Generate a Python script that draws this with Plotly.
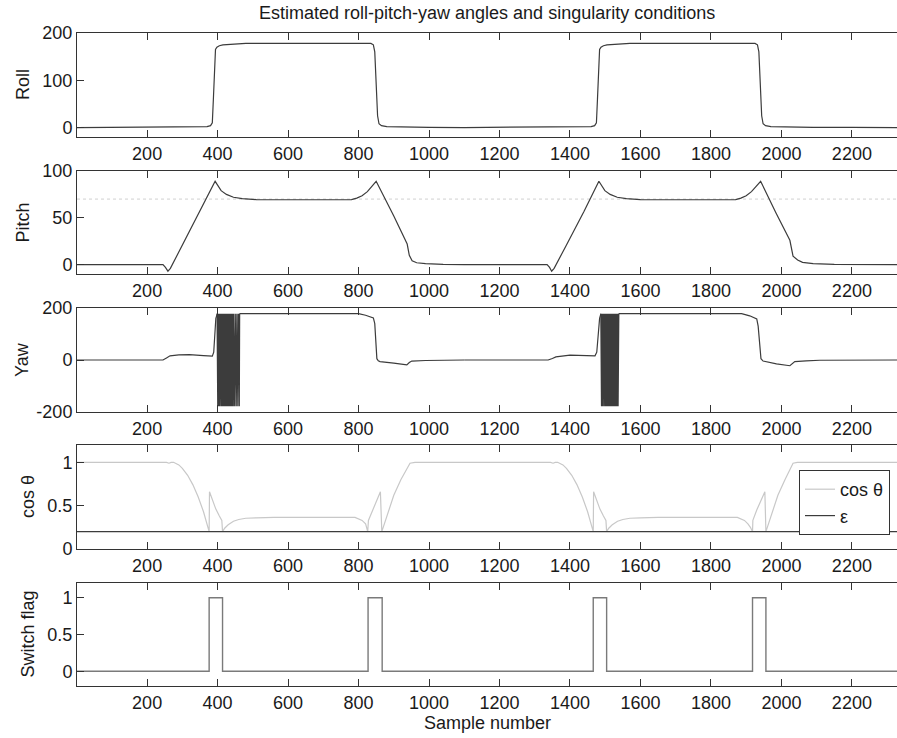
import plotly.graph_objects as go
from plotly.subplots import make_subplots

# ---- sample-number axis ----
x_range = [1, 2328]
x_ticks = [200, 400, 600, 800, 1000, 1200, 1400, 1600, 1800, 2000, 2200]

# ---- roll angle (deg) ----
roll_x = [1, 300, 370, 380, 385, 388, 391, 394, 398, 405, 415, 430, 450, 480,
          835, 842, 846, 850, 854, 858, 865, 880, 920, 1000, 1100,
          1380, 1460, 1470, 1475, 1478, 1481, 1484, 1488, 1495, 1505, 1520, 1540, 1570,
          1925, 1932, 1936, 1940, 1944, 1948, 1955, 1970, 2010, 2090, 2200, 2330]
roll_y = [0, 0.5, 2, 4, 10, 60, 140, 165, 170, 173, 175, 176, 177, 178,
          178, 175, 160, 90, 25, 8, 4, 2, 1, 0.5, 0,
          0.5, 2, 4, 10, 60, 140, 165, 170, 173, 175, 176, 177, 178,
          178, 175, 160, 90, 25, 8, 4, 2, 1, 0.5, 0.2, 0]

# ---- pitch angle (deg) and its 70 deg threshold ----
pitch_x = [1, 245, 252, 259, 266, 300, 350, 393, 400, 410, 425, 445, 470, 510, 600,
           780, 795, 810, 825, 850, 900, 938, 944, 952, 965, 990, 1040, 1100,
           1335, 1342, 1348, 1355, 1390, 1440, 1482, 1489, 1499, 1514, 1534, 1560, 1600, 1700,
           1870, 1885, 1900, 1915, 1941, 1985, 2024, 2033, 2046, 2060, 2090, 2150, 2330]
pitch_y = [0, 0, -3, -7, -4, 21, 57, 89, 85, 79, 75, 72, 70.5, 69.5, 69.3,
           69.5, 71, 73.5, 78, 89, 52, 22, 10, 4, 2, 1, 0.3, 0,
           0, -3, -7, -4, 21, 57, 89, 85, 79, 75, 72, 70.5, 69.5, 69.3,
           69.5, 71, 73.5, 78, 89, 55, 26, 9, 5, 2.5, 1, 0.3, 0]
pitch_limit = 70

# ---- yaw angle (deg): smooth parts and the +/-180 wrap bursts ----
yaw1_pre_x = [1, 245, 255, 265, 290, 320, 360, 385, 389, 392, 395, 398, 399]
yaw1_pre_y = [0, 0, 8, 16, 20, 21, 17, 15, 30, 100, 160, 172, 178]
yaw1_wrap_x = [399, 401, 403, 405, 407, 408, 409, 410, 411, 412, 413, 414, 415, 416,
               417, 418, 419, 420, 421, 422, 423, 424, 425, 426, 427, 428, 429, 430,
               431, 432, 433, 434, 435, 436, 437, 438, 439, 440, 441, 442, 443, 444,
               446, 449, 452, 455, 458, 461, 462]
yaw1_wrap_y = [178, -178, 178, -178, 178, -178, 178, -178, 178, -178, 178, -178, 178, -178,
               178, -178, 178, -178, 178, -178, 178, -178, 178, -178, 178, -178, 178, -178,
               178, -178, 178, -178, 178, -178, 178, -178, 178, -178, 178, -178, 178, -178,
               178, -178, 178, -178, 178, -178, 178]
yaw1_post_x = [462, 600, 800, 820, 842, 846, 849, 852, 856, 861, 900, 937, 944, 951, 990, 1031, 1100]
yaw1_post_y = [178, 178, 178, 172, 162, 140, 60, 5, -3, -6, -12, -19, -10, -4, -2, -1, 0]

yaw2_pre_x = [1100, 1338, 1350, 1360, 1400, 1440, 1471, 1476, 1480, 1484, 1487, 1488]
yaw2_pre_y = [0, 0, 6, 12, 19, 18, 16, 30, 100, 160, 174, 178]
yaw2_wrap_x = [1488, 1490, 1492, 1494, 1496, 1497, 1498, 1499, 1500, 1501, 1502, 1503, 1504,
               1505, 1506, 1507, 1508, 1509, 1510, 1511, 1512, 1513, 1514, 1515, 1516, 1517,
               1518, 1519, 1520, 1521, 1522, 1523, 1524, 1525, 1526, 1528, 1530, 1532, 1534,
               1536, 1538]
yaw2_wrap_y = [178, -178, 178, -178, 178, -178, 178, -178, 178, -178, 178, -178, 178,
               -178, 178, -178, 178, -178, 178, -178, 178, -178, 178, -178, 178, -178,
               178, -178, 178, -178, 178, -178, 178, -178, 178, -178, 178, -178, 178,
               -178, 178]
yaw2_post_x = [1538, 1700, 1887, 1910, 1930, 1934, 1938, 1942, 1948, 1986, 2024, 2031, 2038, 2070, 2109, 2330]
yaw2_post_y = [178, 178, 178, 170, 158, 130, 60, 5, -4, -15, -22, -12, -6, -3, -1, 0]

# ---- cos(theta) and the singularity threshold epsilon ----
cos_x = [1, 255, 262, 268, 275, 290, 300, 315, 330, 345, 360, 370, 376, 377, 385, 395,
         405, 412, 414, 420, 430, 445, 460, 480, 510, 560, 790, 800, 810, 820, 826, 828,
         840, 852, 862, 866, 880, 900, 920, 935, 946, 960,
         1345, 1352, 1358, 1365, 1380, 1390, 1405, 1420, 1435, 1450, 1460, 1466, 1467, 1475,
         1485, 1495, 1502, 1504, 1510, 1520, 1535, 1550, 1570, 1600, 1650, 1875, 1885, 1895,
         1905, 1912, 1918, 1919, 1930, 1942, 1953, 1956, 1970, 1990, 2010, 2024, 2033, 2045,
         2330]
cos_y = [1, 1, 0.99, 1.0, 1.0, 0.97, 0.93, 0.85, 0.74, 0.6, 0.43, 0.3, 0.2, 0.66, 0.56, 0.46,
         0.38, 0.33, 0.2, 0.24, 0.28, 0.32, 0.34, 0.355, 0.36, 0.365, 0.365, 0.35, 0.33, 0.29, 0.2, 0.33,
         0.45, 0.57, 0.66, 0.2, 0.38, 0.62, 0.8, 0.92, 0.99, 1.0,
         1, 0.99, 1.0, 1.0, 0.97, 0.93, 0.85, 0.74, 0.6, 0.43, 0.3, 0.2, 0.66, 0.56,
         0.46, 0.38, 0.33, 0.2, 0.24, 0.28, 0.32, 0.34, 0.355, 0.36, 0.365, 0.365, 0.35, 0.33,
         0.29, 0.25, 0.2, 0.33, 0.45, 0.57, 0.66, 0.2, 0.38, 0.62, 0.8, 0.92, 0.99, 1.0,
         1.0]
eps_x = [1, 2330]
eps_y = [0.2, 0.2]

# ---- representation switch flag ----
flag_x = [1, 376, 414, 827, 867, 1466, 1504, 1918, 1956, 2330]
flag_y = [0, 1, 0, 1, 0, 1, 0, 1, 0, 0]

# ---- styling ----
W, H = 897, 738
FONT = "Liberation Sans, Arial, Helvetica, sans-serif"
DARK = "#3c3c3c"
LIGHT = "#c8c8c8"
AXIS = "#333333"

fig = make_subplots(rows=5, cols=1)

def line(x, y, row, color=DARK, width=1.2, shape="linear", name=None, legend=False, dash=None):
    fig.add_trace(go.Scatter(x=x, y=y, mode="lines", name=name, showlegend=legend,
                             line=dict(color=color, width=width, shape=shape, dash=dash),
                             hoverinfo="skip"), row=row, col=1)

line(roll_x, roll_y, 1)

line(x_range, [pitch_limit, pitch_limit], 2, color="#d0d0d0", width=1, dash="dot")
line(pitch_x, pitch_y, 2)

line(yaw1_pre_x, yaw1_pre_y, 3)
line(yaw1_wrap_x, yaw1_wrap_y, 3, width=1.6)
line(yaw1_post_x, yaw1_post_y, 3)
line(yaw2_pre_x, yaw2_pre_y, 3)
line(yaw2_wrap_x, yaw2_wrap_y, 3, width=1.6)
line(yaw2_post_x, yaw2_post_y, 3)

line(cos_x, cos_y, 4, color=LIGHT, width=1.2, name="cos θ", legend=True)
line(eps_x, eps_y, 4, color=DARK, width=1.2, name="ε", legend=True)

line(flag_x, flag_y, 5, color="#7a7a7a", width=1.4, shape="hv")

# panel placement in pixels (top, bottom)
panels = [(33, 137), (171, 274), (308, 412), (445, 549), (583, 686)]
y_specs = [
    dict(range=[-20, 200], tickvals=[0, 100, 200], ticktext=["0", "100", "200"]),
    dict(range=[-10, 100], tickvals=[0, 50, 100], ticktext=["0", "50", "100"]),
    dict(range=[-200, 200], tickvals=[-200, 0, 200], ticktext=["-200", "0", "200"]),
    dict(range=[0, 1.2], tickvals=[0, 0.5, 1], ticktext=["0", "0.5", "1"]),
    dict(range=[-0.2, 1.2], tickvals=[0, 0.5, 1], ticktext=["0", "0.5", "1"]),
]
y_titles = ["Roll", "Pitch", "Yaw", "cos θ", "Switch flag"]
y_title_x = [23, 23, 22, 28, 27]

x_left = 77 / W
axis_common = dict(showline=True, linecolor=AXIS, linewidth=1, ticks="inside", ticklen=7,
                   tickcolor=AXIS, tickwidth=1, showgrid=False, zeroline=False,
                   tickfont=dict(family=FONT, size=18, color="#1a1a1a"))

annotations = []
for i, ((top, bot), ys) in enumerate(zip(panels, y_specs), start=1):
    fig.update_xaxes(row=i, col=1, domain=[x_left, 1.0], range=x_range, tickvals=x_ticks,
                     mirror="ticks", **axis_common)
    fig.update_yaxes(row=i, col=1, domain=[1 - bot / H, 1 - top / H], mirror=False,
                     **ys, **axis_common)
    annotations.append(dict(text=y_titles[i - 1], x=y_title_x[i - 1] / W, y=1 - (top + bot) / 2 / H,
                            xref="paper", yref="paper", textangle=-90, showarrow=False,
                            xanchor="center", yanchor="middle",
                            font=dict(family=FONT, size=18, color="#1a1a1a")))

annotations.append(dict(text="Estimated roll-pitch-yaw angles and singularity conditions",
                        x=487 / W, y=1 - 13 / H, xref="paper", yref="paper", showarrow=False,
                        xanchor="center", yanchor="middle",
                        font=dict(family=FONT, size=18, color="#1a1a1a")))
annotations.append(dict(text="Sample number", x=487 / W, y=1 - 723 / H, xref="paper", yref="paper",
                        showarrow=False, xanchor="center", yanchor="middle",
                        font=dict(family=FONT, size=18, color="#1a1a1a")))

fig.update_layout(
    width=W, height=H,
    margin=dict(l=0, r=0, t=0, b=0, autoexpand=False),
    paper_bgcolor="white", plot_bgcolor="white",
    annotations=annotations,
    showlegend=True,
    legend=dict(x=799 / W, y=1 - 470 / H, xanchor="left", yanchor="top",
                bgcolor="white", bordercolor=AXIS, borderwidth=1,
                font=dict(family=FONT, size=18, color="#1a1a1a"), tracegroupgap=0),
)

fig.write_html("out.html")
